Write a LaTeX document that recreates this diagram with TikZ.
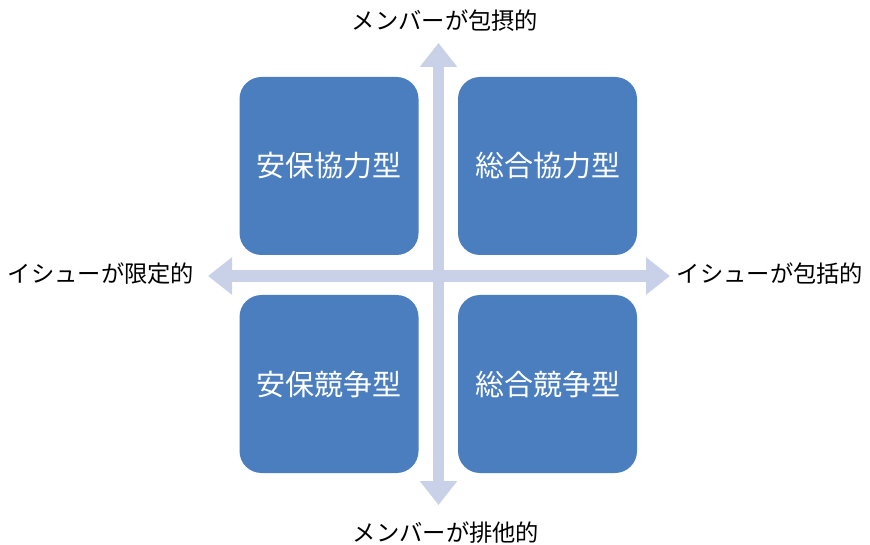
\documentclass[tikz,border=0pt]{standalone}
\usepackage{fontspec}
\setmainfont{Noto Sans CJK JP}
\usetikzlibrary{arrows.meta}
\definecolor{boxblue}{HTML}{4A7EBF}
\definecolor{axisblue}{HTML}{C8D1E8}
\tikzset{
  quad/.style={fill=boxblue, draw=none, rounded corners=22pt, minimum width=179pt, minimum height=178pt, text=white, font=\fontsize{29}{32}\selectfont, inner sep=0pt},
  axislabel/.style={font=\fontsize{23.3}{27}\selectfont, text=black, inner sep=0pt},
  axis/.style={draw=axisblue, line width=11.5pt, {Triangle[width=36pt,length=24pt]}-{Triangle[width=36pt,length=24pt]}}
}
\begin{document}
\begin{tikzpicture}[x=1pt,y=-1pt]
\useasboundingbox (0,0) rectangle (870,545);
\coordinate (ax-l) at (208,276);
\coordinate (ax-r) at (670,276);
\coordinate (ax-t) at (438.5,43);
\coordinate (ax-b) at (438.5,505);
\draw[axis] (ax-l) -- (ax-r);
\draw[axis] (ax-t) -- (ax-b);
\node[quad] (tl) at (329,166) {安保協力型};
\node[quad] (tr) at (547.5,166) {総合協力型};
\node[quad] (bl) at (329,384) {安保競争型};
\node[quad] (br) at (547.5,384) {総合競争型};
\node[axislabel] (top) at (445,21) {メンバーが包摂的};
\node[axislabel] (bottom) at (446,533) {メンバーが排他的};
\node[axislabel] (left) at (101,274) {イシューが限定的};
\node[axislabel] (right) at (770,274) {イシューが包括的};
\end{tikzpicture}
\end{document}
